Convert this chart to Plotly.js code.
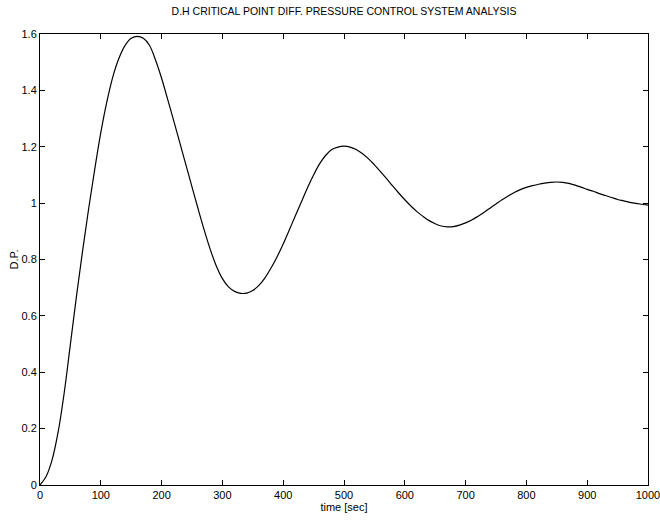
<!DOCTYPE html>
<html>
<head>
<meta charset="utf-8">
<script src="https://cdn.plot.ly/plotly-3.0.1.min.js"></script>
<style>html,body{margin:0;padding:0;background:#fff;}#chart{width:660px;height:520px;}</style>
</head>
<body>
<div id="chart"></div>
<script>
const timeSec = [0,10,20,30,40,50,60,70,80,90,100,110,120,130,140,150,160,170,180,190,200,210,220,230,240,250,260,270,280,290,300,310,320,330,340,350,360,370,380,390,400,410,420,430,440,450,460,470,480,490,500,510,520,530,540,550,560,570,580,590,600,610,620,630,640,650,660,670,680,690,700,710,720,730,740,750,760,770,780,790,800,810,820,830,840,850,860,870,880,890,900,910,920,930,940,950,960,970,980,990,1000];
const diffPressure = [0,0.03,0.09,0.19,0.33,0.5,0.67,0.83,0.98,1.12,1.25,1.36,1.45,1.515,1.56,1.585,1.592,1.585,1.56,1.508,1.443,1.368,1.292,1.214,1.136,1.058,0.98,0.905,0.836,0.777,0.732,0.703,0.687,0.68,0.681,0.69,0.708,0.735,0.77,0.81,0.855,0.905,0.955,1.005,1.055,1.1,1.14,1.17,1.19,1.199,1.202,1.199,1.19,1.176,1.158,1.136,1.112,1.087,1.061,1.036,1.012,0.99,0.97,0.953,0.938,0.927,0.919,0.916,0.917,0.922,0.93,0.94,0.953,0.967,0.982,0.997,1.012,1.025,1.038,1.048,1.056,1.062,1.067,1.071,1.074,1.075,1.074,1.07,1.064,1.057,1.049,1.042,1.034,1.027,1.02,1.013,1.008,1.003,0.999,0.996,0.993];
const titleText = "D.H CRITICAL POINT DIFF. PRESSURE CONTROL SYSTEM ANALYSIS";
const xTitle = "time [sec]";
const yTitle = "D.P.";

const font = "'Liberation Sans', Arial, Helvetica, sans-serif";
const trace = {
  x: timeSec, y: diffPressure, type: 'scatter', mode: 'lines',
  line: {color: '#000', width: 1.2, shape: 'spline', smoothing: 1}
};
const axisCommon = {
  showline: true, mirror: 'ticks', linecolor: '#000', linewidth: 1,
  ticks: 'inside', ticklen: 5, tickcolor: '#000', tickwidth: 1,
  showgrid: false, zeroline: false, ticklabeloverflow: 'allow',
  tickfont: {family: font, size: 11, color: '#000'}
};
const layout = {
  width: 660, height: 520,
  margin: {l: 40, r: 12, t: 34, b: 35},
  paper_bgcolor: '#fff', plot_bgcolor: '#fff',
  showlegend: false,
  title: {text: titleText, font: {family: font, size: 10.5, color: '#000'}, x: 0.5, xref: 'paper', xanchor: 'center', y: 0.985, yanchor: 'top'},
  xaxis: Object.assign({}, axisCommon, {range: [0, 1000.01], dtick: 100, tick0: 0,
    title: {text: xTitle, font: {family: font, size: 11, color: '#000'}, standoff: 2}}),
  yaxis: Object.assign({}, axisCommon, {range: [0, 1.6001], dtick: 0.2, tick0: 0,
    title: {text: yTitle, font: {family: font, size: 11, color: '#000'}, standoff: 0}})
};
Plotly.newPlot('chart', [trace], layout, {displayModeBar: false, staticPlot: true});
</script>
</body>
</html>
